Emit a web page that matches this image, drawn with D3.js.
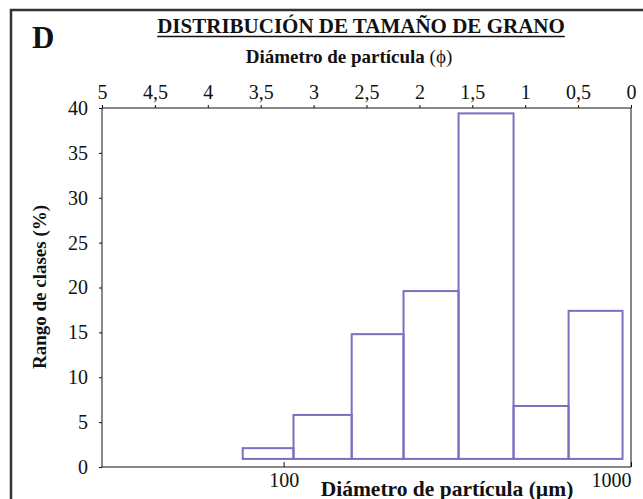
<!DOCTYPE html>
<html>
<head>
<meta charset="utf-8">
<script src="https://cdn.jsdelivr.net/npm/d3@7"></script>
<style>
  body { margin: 0; background: #fff; }
  svg { display: block; }
  text { font-family: "Liberation Serif", "Times New Roman", serif; fill: #111; }
  .axis path, .axis line { stroke: #111; }
  .axis .tick text { font-size: 20px; }
</style>
</head>
<body>
<svg id="chart"></svg>
<script>
// phi class boundaries (coarse end of each class), percentages per class
const phiEdges = [3.67, 3.19, 2.64, 2.15, 1.63, 1.11, 0.59, 0.08];
const classPct = [2.1, 5.8, 14.8, 19.6, 39.4, 6.8, 17.4];
const barBase = 0.9;

const phiTicks = [5, 4.5, 4, 3.5, 3, 2.5, 2, 1.5, 1, 0.5, 0];
const pctTicks = [0, 5, 10, 15, 20, 25, 30, 35, 40];
const umTicks = [100, 1000];

const W = 643, H = 499;
const mLeft = 102, mRight = 631, mTop = 108, mBottom = 467;
const serif = "'Liberation Serif', 'Times New Roman', serif";

const svg = d3.select("#chart").attr("width", W).attr("height", H);

// outer frame (right/bottom edges fall off the picture)
svg.append("rect")
  .attr("x", 11).attr("y", 10)
  .attr("width", 700).attr("height", 600)
  .attr("fill", "none").attr("stroke", "#333").attr("stroke-width", 2.5);

svg.append("text")
  .attr("x", 32).attr("y", 48)
  .style("font-size", "31px").style("font-weight", "bold")
  .text("D");

const title = svg.append("text")
  .attr("x", 361).attr("y", 33)
  .attr("text-anchor", "middle")
  .style("font-size", "21px").style("font-weight", "bold")
  .text("DISTRIBUCIÓN DE TAMAÑO DE GRANO");
const tl = title.node().getComputedTextLength();
svg.append("line")
  .attr("x1", 361 - tl / 2).attr("x2", 361 + tl / 2)
  .attr("y1", 36.5).attr("y2", 36.5)
  .attr("stroke", "#111").attr("stroke-width", 1.5);

const sub = svg.append("text")
  .attr("x", 349).attr("y", 63)
  .attr("text-anchor", "middle")
  .style("font-size", "19px").style("font-weight", "bold");
sub.append("tspan").text("Diámetro de partícula ");
sub.append("tspan").style("font-weight", "normal").text("(ϕ)");

const xPhi = d3.scaleLinear().domain([5, 0]).range([mLeft, mRight]);
const xUm = d3.scaleLog().domain([30, 1000]).range([mLeft, mRight]);
const y = d3.scaleLinear().domain([0, 40]).range([mBottom, mTop]);

const fmt = d => String(d).replace(".", ",");
const styleAxis = g => {
  g.attr("font-family", null).attr("font-size", null);
  g.selectAll(".tick text")
    .style("font-family", serif)
    .style("font-size", "20px");
};

// top phi axis
svg.append("g")
  .attr("class", "axis")
  .attr("transform", `translate(0,${mTop})`)
  .call(d3.axisTop(xPhi).tickValues(phiTicks).tickFormat(fmt).tickSize(3).tickPadding(6))
  .call(g => g.select(".domain").attr("d", `M${mLeft},0H${mRight}`))
  .call(styleAxis);

// left axis
svg.append("g")
  .attr("class", "axis")
  .attr("transform", `translate(${mLeft},0)`)
  .call(d3.axisLeft(y).tickValues(pctTicks).tickSize(3).tickPadding(11))
  .call(g => g.select(".domain").attr("d", `M0,${mTop}V${mBottom}`))
  .call(styleAxis);

// bottom log axis, ticks pointing inward
const bottomAxis = svg.append("g")
  .attr("class", "axis")
  .attr("transform", `translate(0,${mBottom})`)
  .call(d3.axisBottom(xUm).tickValues(umTicks).tickFormat(d3.format("d")).tickSize(-5).tickPadding(6))
  .call(g => g.select(".domain").attr("d", `M${mLeft},0H${mRight}`))
  .call(styleAxis);
bottomAxis.selectAll(".tick text")
  .filter(d => d === 1000)
  .attr("dx", -20);

// right edge of the plot box
svg.append("line")
  .attr("x1", mRight).attr("x2", mRight)
  .attr("y1", mTop).attr("y2", mBottom)
  .attr("stroke", "#111");

// bars
const bins = classPct.map((v, i) => ({ from: phiEdges[i], to: phiEdges[i + 1], value: v }));
svg.append("g")
  .selectAll("rect")
  .data(bins)
  .join("rect")
  .attr("x", d => xPhi(d.from))
  .attr("y", d => y(d.value))
  .attr("width", d => xPhi(d.to) - xPhi(d.from))
  .attr("height", d => y(barBase) - y(d.value))
  .attr("fill", "none")
  .attr("stroke", "#7a6fc0")
  .attr("stroke-width", 2);

// axis titles
svg.append("text")
  .attr("x", 447).attr("y", 496)
  .attr("text-anchor", "middle")
  .style("font-size", "21.5px").style("font-weight", "bold")
  .text("Diámetro de partícula (µm)");

svg.append("text")
  .attr("transform", "translate(46,287) rotate(-90)")
  .attr("text-anchor", "middle")
  .style("font-size", "19px").style("font-weight", "bold")
  .text("Rango de clases  (%)");
</script>
</body>
</html>
